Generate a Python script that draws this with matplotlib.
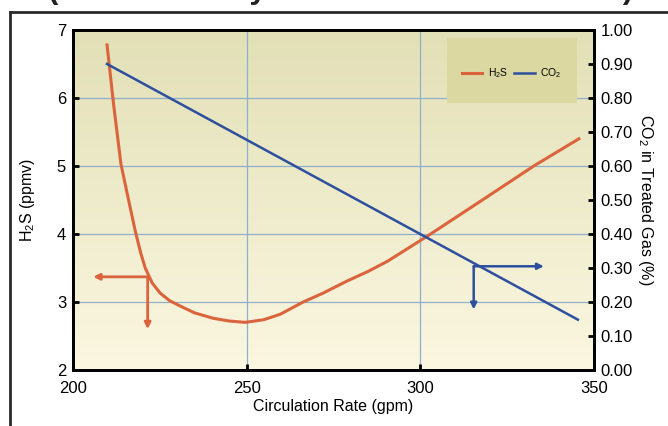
import matplotlib.pyplot as plt
import numpy as np
from matplotlib.lines import Line2D
from matplotlib.patches import Rectangle

plt.rcParams['font.family'] = ['Liberation Sans', 'DejaVu Sans']
plt.rcParams['mathtext.fontset'] = 'custom'
plt.rcParams['mathtext.rm'] = 'Liberation Sans'
plt.rcParams['mathtext.it'] = 'Liberation Sans:italic'

# data
rate_h2s = [209.8, 211.7, 213.8, 216.0, 217.9, 219.5, 220.8, 222.8, 225.1, 227.8,
            230.9, 235.0, 240.4, 245.0, 249.6, 255.0, 259.7, 266.3, 272.0, 279.0,
            285.0, 290.6, 302.1, 317.0, 332.7, 345.7]
h2s_ppmv = [6.78, 5.90, 5.03, 4.50, 4.05, 3.72, 3.50, 3.28, 3.13, 3.02,
            2.94, 2.84, 2.76, 2.72, 2.70, 2.74, 2.82, 3.00, 3.13, 3.31,
            3.45, 3.60, 3.97, 4.47, 5.00, 5.40]
rate_co2 = [209.8, 345.4]
co2_pct = [0.90, 0.148]

# arrow guides: corner x, corner y, horizontal end x, vertical end y
h2s_arrow = (221.5, 3.37, 205.8, 2.60)
co2_arrow = (315.4, 0.305, 335.6, 0.178)

red = '#db643c'
blue = '#2d4f9e'
grid_c = '#8fb0cc'

fig = plt.figure(figsize=(6.68, 4.26), dpi=100)
ax = fig.add_axes([0.1093, 0.1315, 0.7797, 0.7981])

# gradient background
top = np.array([226, 224, 182]) / 255
bot = np.array([251, 247, 225]) / 255
t = np.linspace(0, 1, 200)[:, None]
grad = (top * (1 - t) + bot * t)[:, None, :]
ax.imshow(grad, extent=[200, 350, 2, 7], aspect='auto', zorder=0)

ax.set_xlim(200, 350)
ax.set_ylim(2, 7)
ax.set_xticks([200, 250, 300, 350])
ax.set_yticks([2, 3, 4, 5, 6, 7])
ax.grid(True, color=grid_c, lw=0.9, zorder=1)
ax.tick_params(direction='in', length=4, width=2, labelsize=12, pad=5)
ax.tick_params(axis='x', pad=8)
for s in ax.spines.values():
    s.set_linewidth(2)
ax.set_xlabel('Circulation Rate (gpm)', fontsize=11.5, labelpad=2)
ax.set_ylabel('H$_2$S (ppmv)', fontsize=11.5, labelpad=14)

l1, = ax.plot(rate_h2s, h2s_ppmv, color=red, lw=2.2, zorder=3, label='H$_2$S')

cx, cy, hx, vy = h2s_arrow
akw = dict(arrowstyle='-|>', color=red, lw=2, mutation_scale=9, shrinkA=0, shrinkB=0)
ax.annotate('', xy=(hx, cy), xytext=(cx, cy), arrowprops=akw, zorder=3)
ax.annotate('', xy=(cx, vy), xytext=(cx, cy), arrowprops=akw, zorder=3)

ax2 = ax.twinx()
ax2.set_ylim(0, 1)
ax2.set_yticks(np.arange(0, 1.01, 0.1))
ax2.set_yticklabels([f'{v:.2f}' for v in np.arange(0, 1.01, 0.1)])
ax2.tick_params(direction='in', length=4, width=2, labelsize=12, pad=5)
for s in ax2.spines.values():
    s.set_linewidth(2)
ax2.set_ylabel('CO$_2$ in Treated Gas (%)', fontsize=11.5, rotation=270, labelpad=16)

l2, = ax2.plot(rate_co2, co2_pct, color=blue, lw=1.8, zorder=3, label='CO$_2$')

cx, cy, hx, vy = co2_arrow
bkw = dict(arrowstyle='-|>', color=blue, lw=1.8, mutation_scale=9, shrinkA=0, shrinkB=0)
ax2.annotate('', xy=(hx, cy), xytext=(cx, cy), arrowprops=bkw)
ax2.annotate('', xy=(cx, vy), xytext=(cx, cy), arrowprops=bkw)

# legend panel
ax2.add_patch(Rectangle((0.718, 0.785), 0.249, 0.191, transform=ax2.transAxes,
                        facecolor='#dcd8a2', edgecolor='none', zorder=4))
leg = ax2.legend(handles=[l1, l2], ncol=2, frameon=False, fontsize=7.5,
                 loc='center', bbox_to_anchor=(0.842, 0.873),
                 handlelength=2.0, handletextpad=0.5, columnspacing=0.6)
leg.set_zorder(5)

# outer frame and clipped title from the source page
fig.add_artist(Line2D([0.015, 1.0], [0.971, 0.971], color='#2a2a2a', lw=2))
fig.add_artist(Line2D([0.015, 0.015], [0.0, 0.971], color='#2a2a2a', lw=2))
fig.text(0.51, 1.0 + 2 / 426, '(Solvent Study Results on Treated Gas)',
         ha='center', va='baseline', fontsize=22.5, fontweight='bold', color='#222222')

fig.savefig('out.png', dpi=100)
